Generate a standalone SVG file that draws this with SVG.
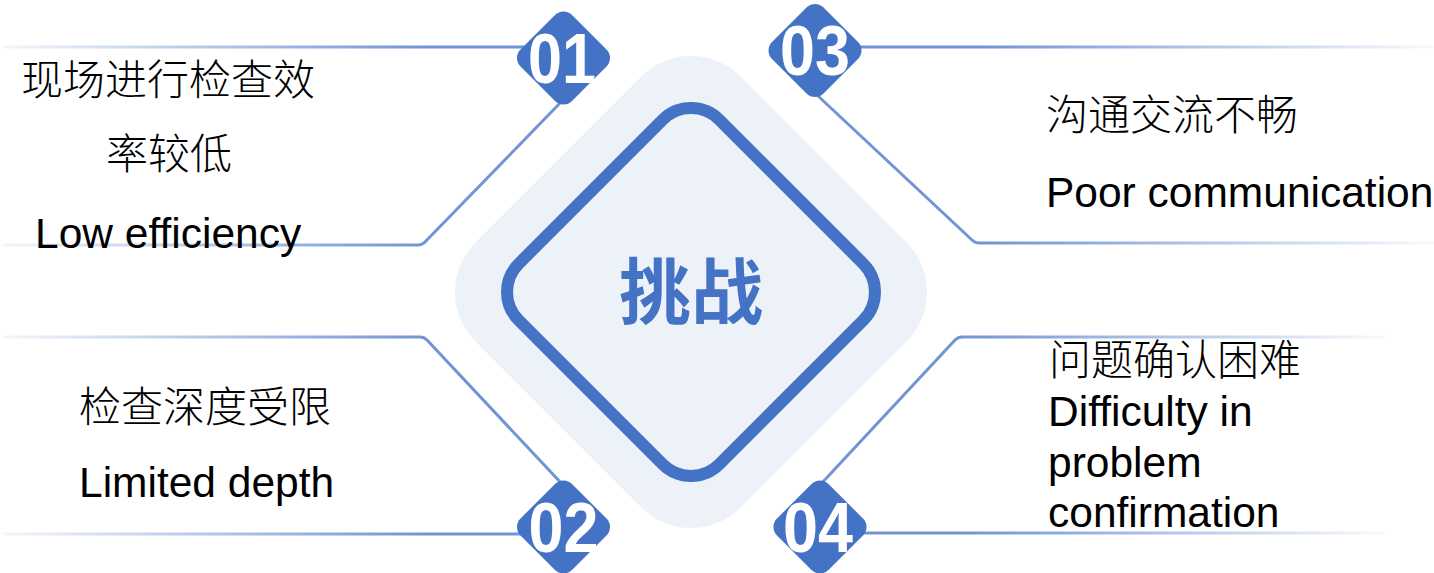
<svg xmlns="http://www.w3.org/2000/svg" width="1434" height="573" viewBox="0 0 1434 573">
  <style>
    .cn { font-family: "Noto Sans CJK SC", "Noto Sans", sans-serif; font-size: 42px; font-weight: 300; fill: #000; }
    .en { font-family: "Liberation Sans", Arial, sans-serif; font-size: 42.5px; fill: #000; }
    .num { font-family: "Liberation Sans", Arial, sans-serif; font-size: 70px; font-weight: bold; fill: #fff; text-anchor: middle; }
    .badge { fill: #4472C4; }
    .title { font-family: "Noto Sans CJK SC", sans-serif; font-size: 72px; font-weight: bold; fill: #4472C4; text-anchor: middle; }
    .ln { fill: none; stroke-width: 3; stroke-linejoin: round; stroke-linecap: butt; }
  </style>
  <defs>
    <linearGradient id="gl" gradientUnits="userSpaceOnUse" x1="0" y1="0" x2="430" y2="0">
      <stop offset="0" stop-color="#7094D4" stop-opacity="0.08"/>
      <stop offset="1" stop-color="#7094D4" stop-opacity="1"/>
    </linearGradient>
    <linearGradient id="gr" gradientUnits="userSpaceOnUse" x1="980" y1="0" x2="1434" y2="0">
      <stop offset="0" stop-color="#7094D4" stop-opacity="1"/>
      <stop offset="1" stop-color="#7094D4" stop-opacity="0.05"/>
    </linearGradient>
    <linearGradient id="gr2" gradientUnits="userSpaceOnUse" x1="960" y1="0" x2="1385" y2="0">
      <stop offset="0" stop-color="#7094D4" stop-opacity="1"/>
      <stop offset="1" stop-color="#7094D4" stop-opacity="0.05"/>
    </linearGradient>
  </defs>

  <g id="center">
    <rect x="-187.4" y="-187.4" width="374.8" height="374.8" rx="70" fill="#EDF2F9" transform="translate(691,292) rotate(45)"/>
    <rect x="-141.8" y="-141.8" width="283.6" height="283.6" rx="40" fill="none" stroke="#4472C4" stroke-width="12" transform="translate(691,292) rotate(45)"/>
    <text class="title" x="691" y="318">挑战</text>
  </g>

  <g id="connectors">
    <path class="ln" stroke="url(#gl)" d="M3,47 H525"/>
    <path class="ln" stroke="url(#gl)" d="M563,100 L425,242 Q422,245 418,245 H3"/>
    <path class="ln" stroke="url(#gr)" d="M855,47 H1434"/>
    <path class="ln" stroke="url(#gr)" d="M817,95 L972,240 Q975,243 979,243 H1434"/>
    <path class="ln" stroke="url(#gl)" d="M3,337 H420 Q424,337 427,340 L563,485"/>
    <path class="ln" stroke="url(#gl)" d="M3,534 H525"/>
    <path class="ln" stroke="url(#gr2)" d="M820,485 L955,340 Q958,337 962,337 H1385"/>
    <path class="ln" stroke="url(#gr2)" d="M860,533 H1385"/>
  </g>

  <g id="item01">
    <rect class="badge" x="-36.4" y="-36.4" width="72.8" height="72.8" rx="12" transform="translate(563.5,58) rotate(45)"/>
    <text class="num" x="562" y="83" textLength="68" lengthAdjust="spacingAndGlyphs">01</text>
    <text class="cn" x="21" y="95">现场进行检查效</text>
    <text class="cn" x="106" y="169">率较低</text>
    <text class="en" x="35" y="248">Low efficiency</text>
  </g>

  <g id="item02">
    <rect class="badge" x="-36.4" y="-36.4" width="72.8" height="72.8" rx="12" transform="translate(563.5,527) rotate(45)"/>
    <text class="num" x="563.5" y="552" textLength="70" lengthAdjust="spacingAndGlyphs">02</text>
    <text class="cn" x="79" y="422">检查深度受限</text>
    <text class="en" x="79" y="497">Limited depth</text>
  </g>

  <g id="item03">
    <rect class="badge" x="-36.4" y="-36.4" width="72.8" height="72.8" rx="12" transform="translate(815,50.5) rotate(45)"/>
    <text class="num" x="815" y="75" textLength="70" lengthAdjust="spacingAndGlyphs">03</text>
    <text class="cn" x="1046" y="130">沟通交流不畅</text>
    <text class="en" x="1046" y="207">Poor communication</text>
  </g>

  <g id="item04">
    <rect class="badge" x="-36.4" y="-36.4" width="72.8" height="72.8" rx="12" transform="translate(820,527) rotate(45)"/>
    <text class="num" x="818" y="552" textLength="70" lengthAdjust="spacingAndGlyphs">04</text>
    <text class="cn" x="1049" y="375">问题确认困难</text>
    <text class="en" x="1048" y="426">Difficulty in</text>
    <text class="en" x="1048" y="477">problem</text>
    <text class="en" x="1048" y="527">confirmation</text>
  </g>
</svg>
